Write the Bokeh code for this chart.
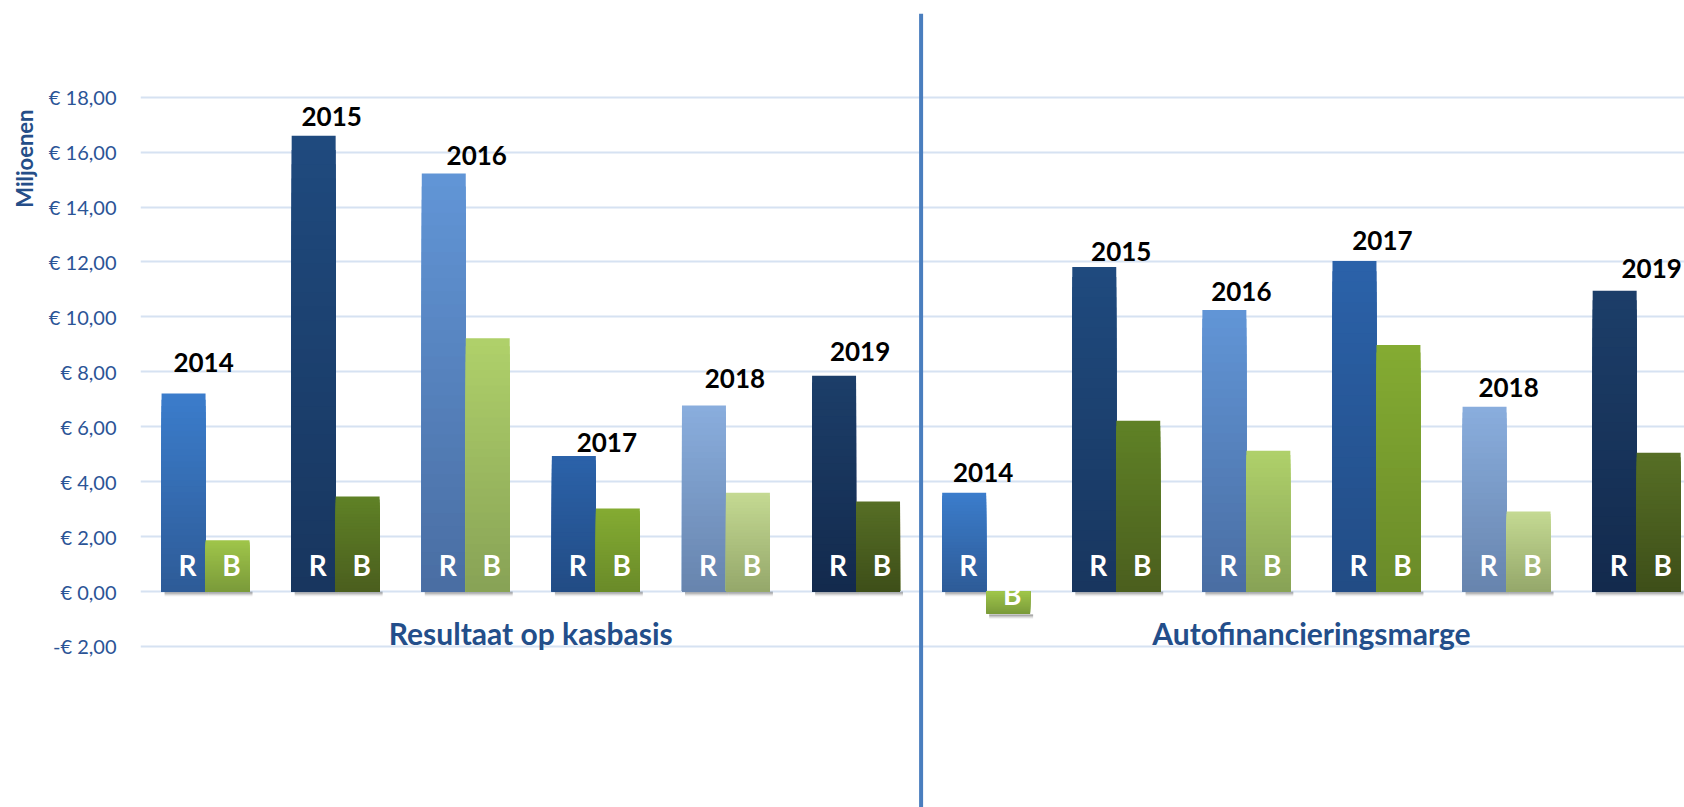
import math
from bokeh.plotting import figure
from bokeh.models import Range1d, FixedTicker, CustomJSTickFormatter, ColumnDataSource, Title
from bokeh.core.properties import value
from bokeh.embed import file_html
from bokeh.resources import INLINE

# ---------------- data ----------------
panels = ["Resultaat op kasbasis", "Autofinancieringsmarge"]
years = ["2014", "2015", "2016", "2017", "2018", "2019"]
series_letters = ["R", "B"]
resultaat_R = [7.21, 16.60, 15.22, 4.93, 6.77, 7.86]
resultaat_B = [1.87, 3.46, 9.22, 3.02, 3.60, 3.28]
autofin_R = [3.60, 11.82, 10.25, 12.04, 6.73, 10.95]
autofin_B = [-0.82, 6.22, 5.13, 8.98, 2.91, 5.05]
y_ticks = [-2, 0, 2, 4, 6, 8, 10, 12, 14, 16, 18]
y_axis_title = "Miljoenen"

# ---------------- styles ----------------
R_top = ["#3B7CCB", "#1F4A7E", "#6195D6", "#2B62A9", "#89ADDD", "#1C3E69"]
R_bot = ["#2E5C98", "#18365F", "#4A6EA3", "#224C85", "#6885AE", "#132A4D"]
B_top = ["#9FC54A", "#5F8126", "#AFD06A", "#84AB32", "#C4D992", "#566E25"]
B_bot = ["#7B9B3A", "#4B5F1E", "#88A356", "#6A8B29", "#95A86B", "#3E4F19"]
# hand placement of the year labels (pixel nudges, as in the original)
label_dx_px = [-2, -4, 11, 11, 9, 4, -3, 5, -5, 6, 2, 15]
label_gap_px = [22, 10, 9, 4, 18, 15, 11, 6, 9, 11, 10, 13]
FONT = value("Lato")
BLUE_TXT = "#2B5496"
BAR_W = 0.338
N_SLICES = 32

W, H = 1684, 807
LEFT, TOP = 140, 13
PX_PER_X = 130.1
PX_PER_Y = 27.46
ZERO_FROM_TOP = 578
x0 = -0.5
x1 = x0 + (W - LEFT) / PX_PER_X
y1 = ZERO_FROM_TOP / PX_PER_Y
y0 = -((H - TOP) - ZERO_FROM_TOP) / PX_PER_Y

p = figure(width=W, height=H, x_range=Range1d(x0, x1), y_range=Range1d(y0, y1),
           output_backend="svg", toolbar_location=None, x_axis_location=None,
           min_border_left=LEFT, min_border_right=0, min_border_top=TOP, min_border_bottom=0,
           background_fill_color="white", border_fill_color="white")
p.outline_line_color = None
p.xgrid.visible = False
p.ygrid.grid_line_color = "#D6E2F2"
p.ygrid.grid_line_width = 2
p.yaxis.ticker = FixedTicker(ticks=y_ticks)
p.yaxis.formatter = CustomJSTickFormatter(code="""
const s = Math.abs(tick).toFixed(2).replace('.', ',');
return (tick < 0 ? '-\u20ac ' : '\u20ac ') + s;
""")
p.yaxis.axis_line_color = None
p.yaxis.major_tick_line_color = None
p.yaxis.minor_tick_line_color = None
p.yaxis.major_label_standoff = 18
p.yaxis.major_label_text_font = "Lato"
p.yaxis.major_label_text_font_size = "20px"
p.yaxis.major_label_text_color = BLUE_TXT

# y-axis title as a side title placed near the top
p.add_layout(Title(text=y_axis_title, align="right", offset=96, standoff=15,
                   text_font="Lato", text_font_style="bold", text_font_size="22px",
                   text_color="#254E88"), "left")


def hex2rgb(h):
    h = h.lstrip("#")
    return tuple(int(h[i:i + 2], 16) for i in (0, 2, 4))


def mix(c_top, c_bot, t):
    a, b = hex2rgb(c_top), hex2rgb(c_bot)
    return "#%02x%02x%02x" % tuple(int(round(b[i] + (a[i] - b[i]) * t)) for i in range(3))


allR = resultaat_R + autofin_R
allB = resultaat_B + autofin_B
ny = len(years)
sh = dict(left=[], right=[], bottom=[], top=[], alpha=[])
q = dict(left=[], right=[], bottom=[], top=[], color=[])
lt = dict(x=[], y=[], text=[], dy=[])
for g in range(len(allR)):
    yi = g % ny
    for s, (vals, ctop, cbot, lft) in enumerate([(allR, R_top, R_bot, g - BAR_W),
                                                 (allB, B_top, B_bot, g)]):
        v = vals[g]
        base = min(v, 0)
        for k in range(4):
            sh["left"].append(lft + 3 / PX_PER_X)
            sh["right"].append(lft + BAR_W + 3 / PX_PER_X)
            sh["top"].append(base - k / PX_PER_Y)
            sh["bottom"].append(base - (k + 2) / PX_PER_Y)
            sh["alpha"].append([0.22, 0.14, 0.08, 0.04][k])
        for i in range(N_SLICES):
            frac = (N_SLICES - i) / N_SLICES
            t = 1 - i / (N_SLICES - 1)
            q["left"].append(lft)
            q["right"].append(lft + BAR_W)
            if v >= 0:
                q["bottom"].append(0)
                q["top"].append(v * frac)
            else:
                q["top"].append(0)
                q["bottom"].append(v * frac)
                t = 1 - t
            q["color"].append(mix(ctop[yi], cbot[yi], t))
        lt["x"].append(lft + BAR_W / 2)
        lt["y"].append(base)
        lt["text"].append(series_letters[s])
        lt["dy"].append(-10 if v >= 0 else -3)

p.quad(source=ColumnDataSource(sh), left="left", right="right", bottom="bottom", top="top",
       fill_color="#000000", fill_alpha="alpha", line_color=None)
p.quad(source=ColumnDataSource(q), left="left", right="right", bottom="bottom", top="top",
       fill_color="color", line_color=None)

# R / B letters
p.text(source=ColumnDataSource(lt), x="x", y="y", text="text", text_color="white",
       text_font=FONT, text_font_style="bold", text_font_size="28px",
       text_align="center", text_baseline="bottom", x_offset=4, y_offset="dy")

# year labels
yl = dict(x=list(range(len(allR))), y=allR, text=years * len(panels),
          dx=label_dx_px, dy=[-g for g in label_gap_px])
p.text(source=ColumnDataSource(yl), x="x", y="y", text="text", text_color="black",
       text_font=FONT, text_font_style="bold", text_font_size="26px",
       text_align="center", text_baseline="bottom", x_offset="dx", y_offset="dy")

# panel titles
pt = dict(x=[(ny - 1) / 2 + k * ny for k in range(len(panels))], y=[0] * len(panels), text=panels)
p.text(source=ColumnDataSource(pt), x="x", y="y", text="text", text_color="#234E8A",
       text_font=FONT, text_font_style="bold", text_font_size="30px",
       text_align="center", text_baseline="middle", y_offset=41)

# divider between the two panels
p.segment(x0=[ny - 0.5], y0=[y0], x1=[ny - 0.5], y1=[y1], line_color="#4A7EBE", line_width=4)

open("out.html", "w").write(file_html(p, INLINE))
